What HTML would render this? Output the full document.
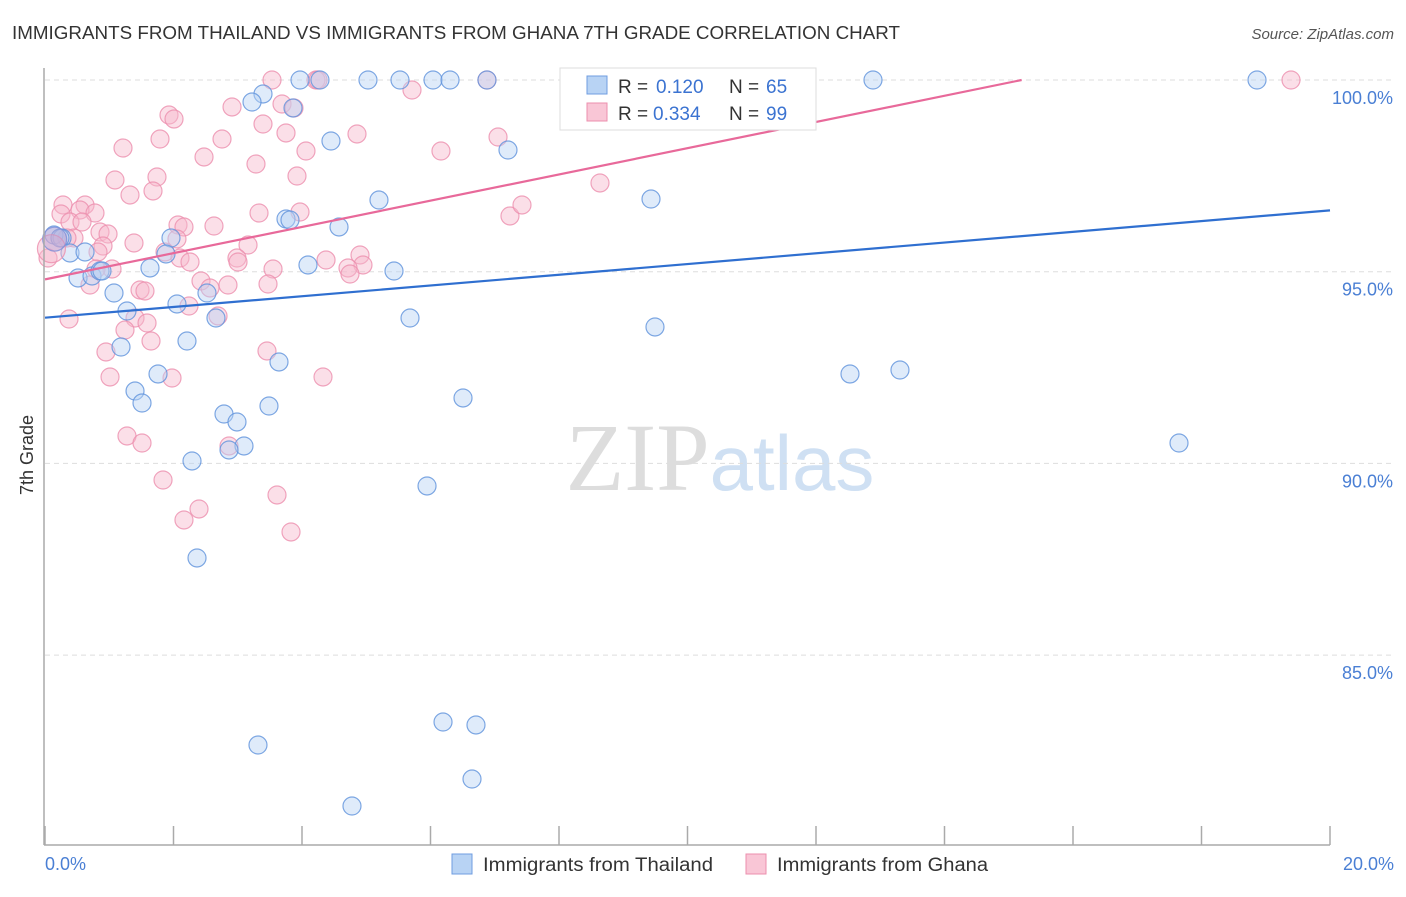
<!DOCTYPE html>
<html><head><meta charset="utf-8"><style>
body{margin:0;background:#fff;font-family:"Liberation Sans",sans-serif;}
svg text{font-family:"Liberation Sans",sans-serif;}
</style></head><body>
<svg id="chart" width="1406" height="892" xmlns="http://www.w3.org/2000/svg">
<text x="12" y="39" font-size="18" fill="#333" textLength="888" lengthAdjust="spacingAndGlyphs">IMMIGRANTS FROM THAILAND VS IMMIGRANTS FROM GHANA 7TH GRADE CORRELATION CHART</text>
<text x="1394" y="39" font-size="15" fill="#555" text-anchor="end" font-style="italic">Source: ZipAtlas.com</text>
<text x="720" y="490" font-size="96" text-anchor="middle"><tspan fill="#ddd" font-family="Liberation Serif">ZIP</tspan><tspan fill="#cfe0f3" font-size="78">atlas</tspan></text>
<text transform="translate(33,455) rotate(-90)" font-size="18" fill="#333" text-anchor="middle">7th Grade</text>
<g id="grid"></g><g id="ticks"></g><g id="pts"></g><g id="lines"></g>
<line x1="44" y1="68" x2="44" y2="845" stroke="#aaa" stroke-width="1.5"/>
<line x1="44" y1="845" x2="1330" y2="845" stroke="#aaa" stroke-width="1.5"/>
<text x="45" y="870" font-size="18" fill="#4a7fd4">0.0%</text>
<text x="1394" y="870" font-size="18" fill="#4a7fd4" text-anchor="end">20.0%</text>
<g>
<rect x="560" y="68" width="256" height="62" fill="#fff" stroke="#ddd"/>
<rect x="587" y="76" width="20" height="18" fill="#b8d3f4" stroke="#6f9de0"/>
<rect x="587" y="103" width="20" height="18" fill="#f9c6d6" stroke="#ec8fae"/>
<text x="618" y="93" font-size="19" fill="#333">R =</text><text x="656" y="93" font-size="19" fill="#3b73d1">0.120</text>
<text x="729" y="93" font-size="19" fill="#333">N =</text><text x="766" y="93" font-size="19" fill="#3b73d1">65</text>
<text x="618" y="120" font-size="19" fill="#333">R =</text><text x="653" y="120" font-size="19" fill="#3b73d1">0.334</text>
<text x="729" y="120" font-size="19" fill="#333">N =</text><text x="766" y="120" font-size="19" fill="#3b73d1">99</text>
</g>
<g>
<rect x="452" y="854" width="20" height="20" fill="#b8d3f4" stroke="#6f9de0"/>
<text x="483" y="871" font-size="19" fill="#333" textLength="230" lengthAdjust="spacingAndGlyphs">Immigrants from Thailand</text>
<rect x="746" y="854" width="20" height="20" fill="#f9c6d6" stroke="#ec8fae"/>
<text x="777" y="871" font-size="19" fill="#333" textLength="211" lengthAdjust="spacingAndGlyphs">Immigrants from Ghana</text>
</g>
</svg>
<script>
const yTicks=[100,95,90,85];
const yTickLabels=["100.0%","95.0%","90.0%","85.0%"];
const xTicks=[0,2,4,6,8,10,12,14,16,18,20];
const bluePx=[[300,80],[320,80],[368,80],[400,80],[433,80],[450,80],[487,80],[772,80],[873,80],[1257,80],[263,94],[252,102],[293,108],[331,141],[508,150],[379,200],[651,199],[286,219],[339,227],[54,235],[62,238],[171,238],[70,253],[85,252],[166,254],[78,278],[92,276],[100,271],[150,268],[308,265],[394,271],[114,293],[207,293],[127,311],[177,304],[216,318],[410,318],[655,327],[121,347],[187,341],[279,362],[158,374],[135,391],[142,403],[269,406],[224,414],[237,422],[463,398],[850,374],[900,370],[244,446],[229,450],[192,461],[1179,443],[427,486],[197,558],[258,745],[443,722],[476,725],[472,779],[352,806],[60,238],[102,271],[290,220]];
const pinkPx=[[272,80],[316,80],[318,80],[487,80],[573,80],[775,80],[1291,80],[412,90],[282,104],[232,107],[169,115],[174,119],[294,108],[263,124],[222,139],[160,139],[286,133],[357,134],[498,137],[123,148],[306,151],[441,151],[204,157],[256,164],[157,177],[297,176],[115,180],[600,183],[153,191],[130,195],[63,205],[85,205],[61,214],[80,210],[95,213],[259,213],[70,222],[82,222],[300,212],[510,216],[522,205],[178,225],[184,227],[214,226],[100,232],[108,234],[103,246],[134,243],[74,238],[48,258],[67,238],[177,239],[248,245],[165,252],[180,258],[190,262],[98,252],[237,258],[238,262],[326,260],[360,255],[363,265],[273,269],[112,269],[96,269],[348,268],[350,274],[90,285],[201,281],[228,285],[268,284],[140,290],[145,291],[210,288],[189,306],[218,316],[135,318],[147,323],[69,319],[125,330],[151,341],[106,352],[172,378],[110,377],[267,351],[323,377],[127,436],[142,443],[229,446],[163,480],[199,509],[184,520],[277,495],[291,532]];
const blueX=bluePx.map(p=>+((p[0]-45)/1285*20).toFixed(3)), blueY=bluePx.map(p=>+(100-(p[1]-80)/191.7*5).toFixed(3));
const pinkX=pinkPx.map(p=>+((p[0]-45)/1285*20).toFixed(3)), pinkY=pinkPx.map(p=>+(100-(p[1]-80)/191.7*5).toFixed(3));
const bigBlue=[[0.15,95.85]], bigPink=[[0.1,95.6]];
const blueTrend=[[0,93.8],[20,96.6]];
const pinkTrend=[[0,94.8],[15.2,100]];
const NS="http://www.w3.org/2000/svg";
const sx=v=>45+v/20*1285, sy=v=>80+(100-v)/5*191.7;
function mk(tag,attrs,parent){const e=document.createElementNS(NS,tag);for(const k in attrs)e.setAttribute(k,attrs[k]);document.getElementById(parent).appendChild(e);return e;}
yTicks.forEach((t,i)=>{
 const l=mk('line',{x1:45,x2:1395,y1:sy(t),y2:sy(t),stroke:'#ddd','stroke-dasharray':'5,4'},'grid');
 
 
 const tx=mk('text',{x:1393,y:sy(t)+24,'font-size':18,fill:'#4a7fd4','text-anchor':'end'},'grid');
 tx.textContent=yTickLabels[i];
 
 
});
xTicks.forEach(t=>{
 const l=mk('line',{x1:sx(t),x2:sx(t),y1:826,y2:845,stroke:'#aaa','stroke-width':1.5},'ticks');
 
 
});
function pts(X,Y,fill,stroke,name,r){X.forEach((x,i)=>{
 const c=mk('circle',{cx:sx(x),cy:sy(Y[i]),r:r,fill:fill,'fill-opacity':0.45,stroke:stroke,'stroke-width':1.2,'stroke-opacity':0.8},'pts');
 
 
});}
pts(pinkX,pinkY,'#f7b8cc','#ec8fae','ghana-point',9);
pts(blueX,blueY,'#b8d3f4','#5f92dc','thailand-point',9);
pts(bigPink.map(p=>p[0]),bigPink.map(p=>p[1]),'#f7b8cc','#ec8fae','ghana-point-large',14);
pts(bigBlue.map(p=>p[0]),bigBlue.map(p=>p[1]),'#b39bd0','#7d8fd8','thailand-point-large',12);
const bl=mk('line',{x1:sx(blueTrend[0][0]),y1:sy(blueTrend[0][1]),x2:sx(blueTrend[1][0]),y2:sy(blueTrend[1][1]),stroke:'#2f6fd0','stroke-width':2.2},'lines');


const pl=mk('line',{x1:sx(pinkTrend[0][0]),y1:sy(pinkTrend[0][1]),x2:sx(pinkTrend[1][0]),y2:sy(pinkTrend[1][1]),stroke:'#e8699a','stroke-width':2.2},'lines');


</script>
</body></html>
